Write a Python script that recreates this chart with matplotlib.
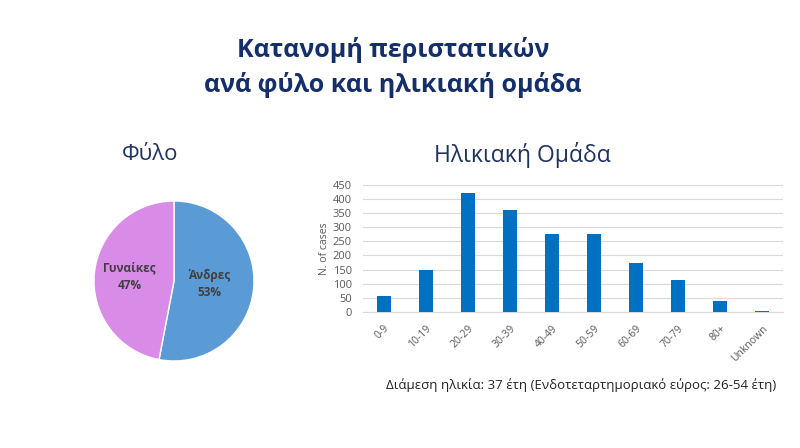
import matplotlib
matplotlib.use("Agg")
import matplotlib.pyplot as plt
import numpy as np

plt.rcParams['font.family'] = ['Open Sans', 'DejaVu Sans']

title_text = "Κατανομή περιστατικών\nανά φύλο και ηλικιακή ομάδα"
pie_title = "Φύλο"
bar_title = "Ηλικιακή Ομάδα"
footnote = "Διάμεση ηλικία: 37 έτη (Ενδοτεταρτημοριακό εύρος: 26-54 έτη)"

sex_labels = ["Άνδρες", "Γυναίκες"]
sex_values = [53, 47]
sex_colors = ["#5B9BD5", "#D98BE8"]

age_groups = ["0-9", "10-19", "20-29", "30-39", "40-49", "50-59",
              "60-69", "70-79", "80+", "Unknown"]
age_cases = [57, 150, 422, 362, 275, 277, 172, 112, 38, 3]
y_ticks = [0, 50, 100, 150, 200, 250, 300, 350, 400, 450]

W, H = 800, 448
fig = plt.figure(figsize=(8, 4.48), dpi=100)
fig.patch.set_facecolor("white")

navy = "#142F6B"
fig.text(393 / W, 1 - 67.5 / H, title_text, ha="center", va="center",
         fontsize=18, fontweight="bold", color=navy, linespacing=1.45)
fig.text(150 / W, 1 - 155 / H, pie_title, ha="center", va="center",
         fontsize=16, color="#1F3262")
fig.text(522 / W, 1 - 155 / H, bar_title, ha="center", va="center",
         fontsize=16.5, color="#1F3262")
fig.text(581 / W, 1 - 385 / H, footnote, ha="center", va="center",
         fontsize=9.5, color="#222222")

# Pie
pie_ax = fig.add_axes([94 / W, 1 - 361 / H, 160 / W, 160 / H])
wedges, texts = pie_ax.pie(sex_values, colors=sex_colors, startangle=90,
                           counterclock=False,
                           wedgeprops=dict(edgecolor="white", linewidth=1))
label_r = [0.44, 0.56]
for w, lab, v, r in zip(wedges, sex_labels, sex_values, label_r):
    ang = np.deg2rad((w.theta1 + w.theta2) / 2)
    pie_ax.text(r * np.cos(ang), r * np.sin(ang), f"{lab}\n{v}%",
                ha="center", va="center", fontsize=8.5, fontweight="bold",
                color="#404040", linespacing=1.4)
pie_ax.set_xlim(-1.0, 1.0)
pie_ax.set_ylim(-1.0, 1.0)
pie_ax.set_aspect("equal")

# Bar chart
ax = fig.add_axes([363 / W, 1 - 312 / H, 420 / W, (312 - 184.7) / H])
x = np.arange(len(age_groups))
ax.bar(x, age_cases, width=0.32, color="#0070C0", zorder=3)
ax.set_xlim(-0.5, len(age_groups) - 0.5)
ax.set_ylim(0, 450)
ax.set_yticks(y_ticks)
ax.set_xticks(x)
ax.set_xticklabels(age_groups, rotation=45, ha="right", rotation_mode="anchor",
                   fontsize=7.5, color="#595959")
ax.tick_params(axis="y", labelsize=8, labelcolor="#595959", length=0, pad=8)
ax.tick_params(axis="x", length=0, pad=8)
ax.grid(axis="y", color="#D9D9D9", linewidth=0.8, zorder=0)
for s in ["top", "right", "left"]:
    ax.spines[s].set_visible(False)
ax.spines["bottom"].set_color("#D9D9D9")
ax.set_ylabel("N. of cases", fontsize=7.5, color="#595959", labelpad=2)

fig.savefig("out.png", dpi=100, facecolor="white")
